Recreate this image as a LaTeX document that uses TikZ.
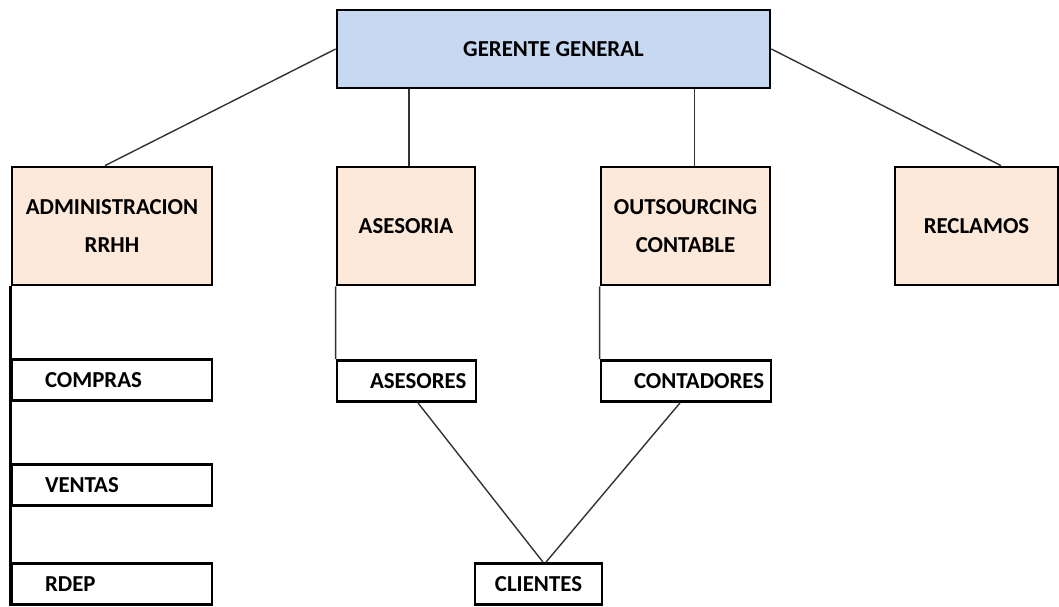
\documentclass[tikz,border=0pt]{standalone}
\usepackage{fontspec}
\setmainfont{Carlito}
\usepackage{xcolor}
\usepackage{tikz}
\usetikzlibrary{positioning}

\definecolor{gerentefill}{RGB}{198,217,241}
\definecolor{areafill}{RGB}{253,233,217}

\begin{document}
\begin{tikzpicture}[x=0.02cm, y=-0.02cm,
    every node/.style={rectangle, draw, line width=1.6pt, align=center,
      font=\fontsize{13}{21.5}\selectfont\bfseries},
    gerente/.style={fill=gerentefill, minimum width=8.66cm, minimum height=1.56cm},
    area/.style={fill=areafill, minimum height=2.36cm},
    caja/.style={fill=white, minimum height=0.82cm},
    sub/.style={caja, inner xsep=0.66cm, align=left},
    conector/.style={line width=0.8pt, draw=black!80},
  ]
  \useasboundingbox (0,0) rectangle (1059,606);

  \node[gerente] (GG) at (553.5, 49) {GERENTE GENERAL};

  \node[area, minimum width=4cm]    (ADM) at (112, 226)   {ADMINISTRACION\\RRHH};
  \node[area, minimum width=2.76cm] (ASE) at (406, 226)   {ASESORIA};
  \node[area, minimum width=3.38cm] (OUT) at (685.5, 226) {OUTSOURCING\\CONTABLE};
  \node[area, minimum width=3.26cm] (REC) at (976.5, 226) {RECLAMOS};

  \node[sub, minimum width=4cm, text width=2.68cm]    (COM)  at (112, 380)   {COMPRAS};
  \node[sub, minimum width=4cm, text width=2.68cm]    (VEN)  at (112, 485)   {VENTAS};
  \node[sub, minimum width=4cm, text width=2.68cm]    (RDEP) at (112, 584)   {RDEP};
  \node[sub, minimum width=2.78cm, text width=1.46cm] (ASR)  at (406.5, 381) {ASESORES};
  \node[sub, minimum width=3.4cm, text width=2.08cm]  (CON)  at (686, 381)   {CONTADORES};
  \node[caja, minimum width=2.54cm]                   (CLI)  at (538.5, 584) {CLIENTES};

  \draw[conector] (GG.west) -- ([xshift=-0.14cm]ADM.north);
  \draw[conector] ([xshift=0.06cm]ASE.north |- GG.south) -- ([xshift=0.06cm]ASE.north);
  \draw[conector] ([xshift=0.18cm]OUT.north |- GG.south) -- ([xshift=0.18cm]OUT.north);
  \draw[conector] (GG.east) -- ([xshift=0.49cm]REC.north);

  \draw[line width=1.6pt] (ADM.south west) -- (RDEP.south west);
  \draw[conector] (ASE.south west) -- (ASR.north west);
  \draw[conector] (OUT.south west) -- (CON.north west);

  \draw[conector] ([xshift=0.23cm]ASR.south) -- ([xshift=0.09cm]CLI.north);
  \draw[conector] ([xshift=-0.12cm]CON.south) -- ([xshift=0.15cm]CLI.north);

\end{tikzpicture}
\end{document}
